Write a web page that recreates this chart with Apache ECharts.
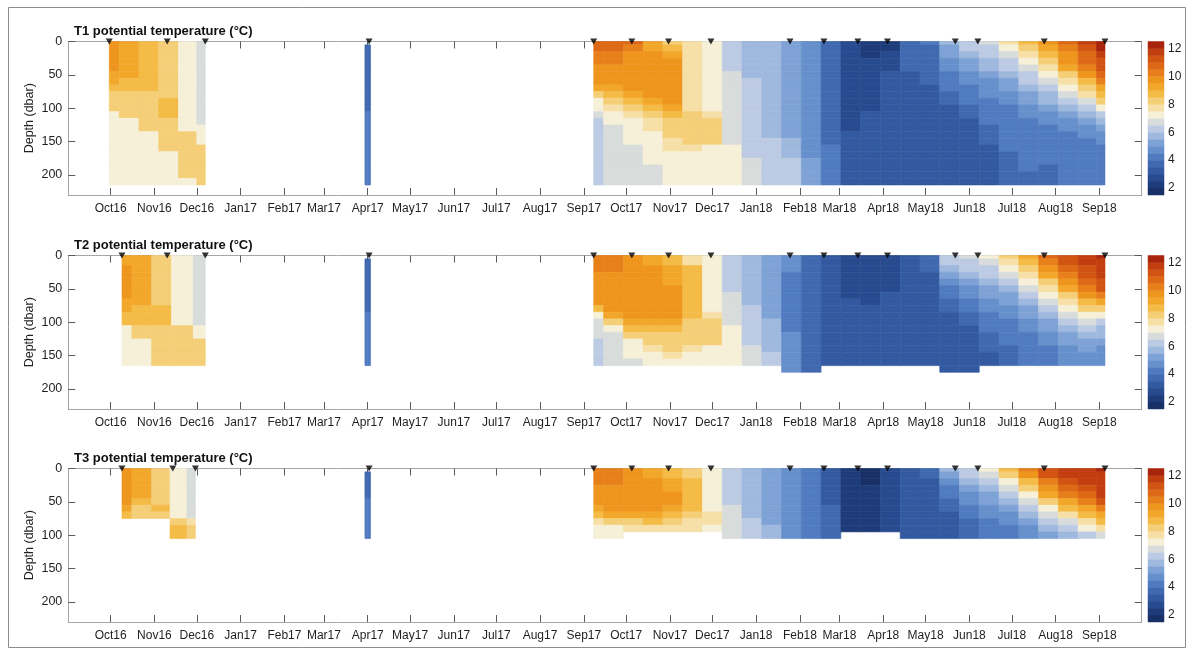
<!DOCTYPE html>
<html>
<head>
<meta charset="utf-8">
<script src="https://cdn.jsdelivr.net/npm/echarts@6.0.0/dist/echarts.min.js"></script>
<style>
  html, body { margin: 0; padding: 0; background: #ffffff; }
  #chart { width: 1193px; height: 654px; }
</style>
</head>
<body>
<div id="chart"></div>
<script>
// ---------------------------------------------------------------
// Potential temperature sections (°C) at three moorings T1, T2, T3.
// Each profile column lists values at DEPTHS (dbar), top downwards.
// ---------------------------------------------------------------
const DEPTHS = [0, 10, 20, 30, 40, 50, 60, 70, 80, 90, 100, 110, 120, 130, 140, 150, 160, 170, 180, 190, 200, 210];

const TICK_DATES = ['2016-10-01','2016-11-01','2016-12-01','2017-01-01','2017-02-01','2017-03-01','2017-04-01','2017-05-01',
  '2017-06-01','2017-07-01','2017-08-01','2017-09-01','2017-10-01','2017-11-01','2017-12-01','2018-01-01','2018-02-01',
  '2018-03-01','2018-04-01','2018-05-01','2018-06-01','2018-07-01','2018-08-01','2018-09-01'];
const TICK_LABELS = ['Oct16','Nov16','Dec16','Jan17','Feb17','Mar17','Apr17','May17','Jun17','Jul17','Aug17','Sep17',
  'Oct17','Nov17','Dec17','Jan18','Feb18','Mar18','Apr18','May18','Jun18','Jul18','Aug18','Sep18'];
const DEPTH_TICKS = [0, 50, 100, 150, 200];
const TIME_RANGE = ['2016-09-01', '2018-10-01'];
const DEPTH_RANGE = [0, 230];

// contour levels (0.5 °C apart) and the fill colour of each band
const LEVELS = [1.5, 2, 2.5, 3, 3.5, 4, 4.5, 5, 5.5, 6, 6.5, 7, 7.5, 8, 8.5, 9, 9.5, 10, 10.5, 11, 11.5, 12, 12.5];
const LEVEL_COLORS = ['#183066','#1f3c7a','#284a8e','#335aa0','#4069b0','#507bc0','#6690cc','#7ea2d5','#9fb8de',
  '#bccbe3','#d8dcdb','#f6f0d8','#f6e0a8','#f5cf78','#f4bb46','#f2a72b','#ee951e','#e7801a','#dd6916','#d25412',
  '#c23e0f','#a8240c'];
const CBAR_TICKS = [2, 4, 6, 8, 10, 12];

const TITLES = ['T1 potential temperature (°C)', 'T2 potential temperature (°C)', 'T3 potential temperature (°C)'];

// station (profile) dates shown as markers
const T1_STATIONS = ['2016-09-30','2016-11-10','2016-12-07','2017-04-02','2017-09-08','2017-10-05','2017-10-31','2017-11-30',
  '2018-01-25','2018-02-18','2018-03-14','2018-04-04','2018-05-22','2018-06-07','2018-07-24','2018-09-05'];
const T2_STATIONS = ['2016-10-09','2016-11-10','2016-12-07','2017-04-02','2017-09-08','2017-10-05','2017-10-31','2017-11-30',
  '2018-01-25','2018-02-18','2018-03-14','2018-04-04','2018-05-22','2018-06-07','2018-07-24','2018-09-05'];
const T3_STATIONS = ['2016-10-09','2016-11-14','2016-11-30','2017-04-02','2017-09-08','2017-10-05','2017-10-31','2017-11-30',
  '2018-01-25','2018-02-18','2018-03-14','2018-04-04','2018-05-22','2018-06-07','2018-07-24','2018-09-05'];

const SEASON_DATES = ['2017-09-08','2017-09-22','2017-10-06','2017-10-20','2017-11-03','2017-11-17','2017-12-01','2017-12-15',
  '2017-12-29','2018-01-12','2018-01-26','2018-02-09','2018-02-23','2018-03-09','2018-03-23','2018-04-06','2018-04-20',
  '2018-05-04','2018-05-18','2018-06-01','2018-06-15','2018-06-29','2018-07-13','2018-07-27','2018-08-10','2018-08-24','2018-09-05'];
const APR17_DATES = ['2017-03-30', '2017-04-03'];

// ---------------- T1 ----------------
const T1_AUTUMN16_DATES = ['2016-09-30','2016-10-14','2016-10-28','2016-11-11','2016-11-25','2016-12-07'];
const T1_AUTUMN16 = [
  [9.75,9.75,9.75,9.75,9.75,9.25,9.25,8.75,8.25,8.25,8.25,7.25,7.25,7.25,7.25,7.25,7.25,7.25,7.25,7.25,7.25,7.25],
  [9.25,9.25,9.25,9.25,9.25,9.25,8.75,8.75,8.25,8.25,8.25,8.25,7.25,7.25,7.25,7.25,7.25,7.25,7.25,7.25,7.25,7.25],
  [8.75,8.75,8.75,8.75,8.75,8.75,8.75,8.75,8.25,8.25,8.25,8.25,8.25,8.25,7.25,7.25,7.25,7.25,7.25,7.25,7.25,7.25],
  [8.25,8.25,8.25,8.25,8.25,8.25,8.25,8.25,8.25,8.75,8.75,8.75,8.25,8.25,8.25,8.25,8.25,7.25,7.25,7.25,7.25,7.25],
  [7.25,7.25,7.25,7.25,7.25,7.25,7.25,7.25,7.25,7.25,7.25,7.25,7.25,7.25,8.25,8.25,8.25,8.25,8.25,8.25,8.25,7.25],
  [6.75,6.75,6.75,6.75,6.75,6.75,6.75,6.75,6.75,6.75,6.75,6.75,6.75,7.25,7.25,7.25,8.25,8.25,8.25,8.25,8.25,8.25]
];
const T1_APR17 = [
  [null,3.75,3.75,3.75,3.75,3.75,3.75,3.75,3.75,3.75,3.75,4.25,4.25,4.25,4.25,4.25,4.25,4.25,4.25,4.25,4.25,4.25],
  [null,3.75,3.75,3.75,3.75,3.75,3.75,3.75,3.75,3.75,3.75,4.25,4.25,4.25,4.25,4.25,4.25,4.25,4.25,4.25,4.25,4.25]
];
const T1_SEASON = [
  [10.75,10.75,10.25,10.25,9.75,9.75,9.75,9.25,8.25,7.25,7.25,6.75,6.25,6.25,6.25,6.25,6.25,6.25,6.25,6.25,6.25,6.25],
  [10.75,10.75,10.25,10.25,9.75,9.75,9.75,9.25,8.75,8.25,7.75,7.25,7.25,6.75,6.75,6.75,6.75,6.75,6.75,6.75,6.75,6.75],
  [10.75,10.25,9.75,9.75,9.75,9.75,9.75,9.75,9.25,8.75,8.25,7.75,7.25,7.25,7.25,7.25,6.75,6.75,6.75,6.75,6.75,6.75],
  [9.25,9.25,9.75,9.75,9.75,9.75,9.75,9.75,9.75,9.25,8.75,8.25,7.75,7.75,7.25,7.25,7.25,7.25,7.25,6.75,6.75,6.75],
  [8.25,8.75,9.25,9.75,9.75,9.75,9.75,9.75,9.75,9.75,9.25,8.75,8.25,8.25,8.25,7.75,7.75,7.25,7.25,7.25,7.25,7.25],
  [7.75,7.75,7.75,7.75,7.75,7.75,7.75,7.75,7.75,7.75,7.75,8.25,8.25,8.25,8.25,8.25,7.75,7.25,7.25,7.25,7.25,7.25],
  [7.25,7.25,7.25,7.25,7.25,7.25,7.25,7.25,7.25,7.25,7.25,7.75,8.25,8.25,8.25,8.25,7.25,7.25,7.25,7.25,7.25,7.25],
  [6.25,6.25,6.25,6.25,6.25,6.75,6.75,6.75,6.75,6.75,6.75,6.75,6.75,6.75,6.75,6.75,7.25,7.25,7.25,7.25,7.25,7.25],
  [5.75,5.75,5.75,5.75,5.75,5.75,6.25,6.25,6.25,6.25,6.25,6.25,6.25,6.25,6.25,6.25,6.25,6.25,6.75,6.75,6.75,6.75],
  [5.75,5.75,5.75,5.75,5.75,5.75,5.75,5.75,5.75,5.75,5.75,5.75,5.75,5.75,5.75,6.25,6.25,6.25,6.25,6.25,6.25,6.25],
  [5.25,5.25,5.25,5.25,5.25,5.25,5.25,5.25,5.25,5.25,5.25,5.25,5.25,5.25,5.25,5.75,5.75,5.75,6.25,6.25,6.25,6.25],
  [4.75,4.75,4.75,4.75,4.75,4.75,4.75,4.75,4.75,4.75,4.75,4.75,4.75,4.75,4.75,4.75,4.75,4.75,5.25,5.25,5.25,5.25],
  [3.75,3.75,3.75,3.75,3.75,3.75,3.75,3.75,3.75,3.75,3.75,3.75,3.75,3.75,3.75,3.75,4.25,4.25,4.25,4.25,4.25,4.25],
  [2.75,2.75,2.75,2.75,2.75,2.75,2.75,2.75,2.75,2.75,2.75,2.75,2.75,2.75,3.25,3.25,3.25,3.25,3.25,3.25,3.25,3.25],
  [2.25,2.25,2.25,2.75,2.75,2.75,2.75,2.75,2.75,2.75,2.75,3.25,3.25,3.25,3.25,3.25,3.25,3.25,3.25,3.25,3.25,3.25],
  [2.25,2.25,2.75,2.75,2.75,3.25,3.25,3.25,3.25,3.25,3.25,3.25,3.25,3.25,3.25,3.25,3.25,3.25,3.25,3.25,3.25,3.25],
  [3.75,3.75,3.75,3.75,3.75,3.25,3.25,3.25,3.25,3.25,3.25,3.25,3.25,3.25,3.25,3.25,3.25,3.25,3.25,3.25,3.25,3.25],
  [4.25,3.75,3.75,3.75,3.75,3.75,3.75,3.25,3.25,3.25,3.25,3.25,3.25,3.25,3.25,3.25,3.25,3.25,3.25,3.25,3.25,3.25],
  [5.75,5.25,5.25,4.75,4.75,4.25,4.25,4.25,3.75,3.75,3.25,3.25,3.25,3.25,3.25,3.25,3.25,3.25,3.25,3.25,3.25,3.25],
  [6.25,6.25,5.75,5.25,5.25,4.75,4.75,4.25,4.25,4.25,3.75,3.75,3.25,3.25,3.25,3.25,3.25,3.25,3.25,3.25,3.25,3.25],
  [6.75,6.25,6.25,5.75,5.75,5.25,4.75,4.75,4.75,4.25,4.25,4.25,4.25,3.75,3.75,3.75,3.25,3.25,3.25,3.25,3.25,3.25],
  [7.75,7.25,6.75,6.25,6.25,5.75,5.25,5.25,4.75,4.75,4.25,4.25,4.25,4.25,4.25,4.25,4.25,3.75,3.75,3.75,3.75,3.75],
  [8.75,8.25,7.75,7.25,6.75,6.25,6.25,5.75,5.25,5.25,4.75,4.75,4.25,4.25,4.25,4.25,4.25,4.25,4.25,4.25,3.75,3.75],
  [9.75,9.25,8.75,8.25,7.75,7.25,6.75,6.25,5.75,5.75,5.25,4.75,4.75,4.25,4.25,4.25,4.25,4.25,4.25,3.75,3.75,3.75],
  [10.75,10.25,9.75,9.75,9.25,8.25,7.75,7.25,6.75,6.25,5.75,5.25,4.75,4.75,4.25,4.25,4.25,4.25,4.25,4.25,4.25,4.25],
  [11.75,11.25,10.75,10.75,10.25,9.75,8.75,8.25,7.75,6.75,6.25,5.75,5.25,4.75,4.75,4.25,4.25,4.25,4.25,4.25,4.25,4.25],
  [12.25,12.25,11.75,11.25,11.25,10.75,10.25,9.25,8.75,8.25,7.25,6.25,5.75,5.25,4.75,4.75,4.25,4.25,4.25,4.25,4.25,4.25]
];

// ---------------- T2 ----------------
const T2_AUTUMN16_DATES = ['2016-10-09','2016-10-23','2016-11-06','2016-11-20','2016-12-07'];
const T2_AUTUMN16 = [
  [9.25,9.25,9.75,9.75,9.75,9.75,9.75,9.25,9.25,8.75,8.75,7.25,7.25,7.25,7.25,7.25,7.25],
  [9.25,9.25,9.25,9.25,9.25,9.25,9.25,9.25,8.75,8.75,8.75,8.25,8.25,7.25,7.25,7.25,7.25],
  [8.25,8.25,8.25,8.25,8.25,8.25,8.25,8.25,8.75,8.75,8.75,8.25,8.25,8.25,8.25,8.25,8.25],
  [7.25,7.25,7.25,7.25,7.25,7.25,7.25,7.25,7.25,7.25,7.25,8.25,8.25,8.25,8.25,8.25,8.25],
  [6.75,6.75,6.75,6.75,6.75,6.75,6.75,6.75,6.75,6.75,6.75,7.25,7.25,8.25,8.25,8.25,8.25]
];
const T2_APR17 = [
  [null,3.75,3.75,3.75,3.75,3.75,3.75,3.75,3.75,4.25,4.25,4.25,4.25,4.25,4.25,4.25,4.25],
  [null,3.75,3.75,3.75,3.75,3.75,3.75,3.75,3.75,4.25,4.25,4.25,4.25,4.25,4.25,4.25,4.25]
];
const T2_SEASON = [
  [10.25,10.25,10.25,9.75,9.75,9.75,9.75,9.75,8.75,7.25,6.75,6.75,6.75,6.25,6.25,6.25,6.25],
  [10.25,10.25,10.25,9.75,9.75,9.75,9.75,9.75,9.75,9.25,8.25,7.25,6.75,6.75,6.75,6.75,6.75],
  [9.75,9.75,9.75,9.75,9.75,9.75,9.75,9.75,9.75,9.75,9.25,8.75,8.25,7.25,7.25,7.25,6.75],
  [9.25,9.25,9.75,9.75,9.75,9.75,9.75,9.75,9.75,9.75,9.25,8.75,8.25,8.25,7.75,7.25,7.25],
  [8.75,8.75,9.25,9.25,9.25,9.75,9.75,9.75,9.75,9.75,9.25,8.75,8.25,8.25,8.25,7.75,7.25],
  [7.75,7.75,8.75,8.75,8.75,8.75,8.75,8.75,8.75,8.75,8.25,8.25,8.25,8.25,7.75,7.25,7.25],
  [7.25,7.25,7.25,7.25,7.25,7.25,7.25,7.25,7.25,7.75,8.25,8.25,8.25,8.25,7.25,7.25,7.25],
  [6.25,6.25,6.25,6.25,6.25,6.25,6.75,6.75,6.75,6.75,6.75,7.25,7.25,7.25,7.25,7.25,7.25],
  [5.75,5.75,5.75,5.75,5.75,5.75,5.75,5.75,6.25,6.25,6.25,6.25,6.25,6.25,6.75,6.75,6.75],
  [5.25,5.25,5.25,5.25,5.25,5.25,5.25,5.25,5.25,5.25,5.75,5.75,5.75,5.75,5.75,6.25,6.25],
  [4.75,4.75,4.75,4.25,4.25,4.25,4.25,4.25,4.25,4.25,4.25,4.25,4.75,4.75,4.75,4.75,4.75,4.75],
  [3.75,3.75,3.75,3.75,3.75,3.75,3.75,3.75,3.75,3.75,3.75,3.75,3.75,3.75,3.75,3.75,3.75,3.75],
  [3.25,3.25,3.25,3.25,3.25,3.25,3.25,3.25,3.25,3.25,3.25,3.25,3.25,3.25,3.25,3.25,3.25],
  [2.75,2.75,2.75,2.75,2.75,2.75,2.75,3.25,3.25,3.25,3.25,3.25,3.25,3.25,3.25,3.25,3.25],
  [2.75,2.75,2.75,2.75,2.75,2.75,2.75,2.75,3.25,3.25,3.25,3.25,3.25,3.25,3.25,3.25,3.25],
  [2.75,2.75,2.75,2.75,2.75,2.75,3.25,3.25,3.25,3.25,3.25,3.25,3.25,3.25,3.25,3.25,3.25],
  [3.25,3.25,3.25,3.25,3.25,3.25,3.25,3.25,3.25,3.25,3.25,3.25,3.25,3.25,3.25,3.25,3.25],
  [3.75,3.75,3.75,3.25,3.25,3.25,3.25,3.25,3.25,3.25,3.25,3.25,3.25,3.25,3.25,3.25,3.25],
  [6.25,6.25,5.75,5.25,4.75,4.25,4.25,3.75,3.75,3.25,3.25,3.25,3.25,3.25,3.25,3.25,3.25,3.25],
  [6.75,6.25,6.25,5.75,5.25,4.75,4.75,4.25,4.25,3.75,3.75,3.25,3.25,3.25,3.25,3.25,3.25,3.25],
  [7.25,6.75,6.25,6.25,5.75,5.25,5.25,4.75,4.75,4.25,4.25,4.25,3.75,3.75,3.75,3.25,3.25],
  [8.25,7.75,7.25,6.75,6.25,5.75,5.25,5.25,4.75,4.75,4.25,4.25,4.25,4.25,3.75,3.75,3.75],
  [9.25,8.75,8.25,7.75,7.25,6.75,6.25,5.75,5.25,5.25,4.75,4.75,4.25,4.25,4.25,4.25,4.25],
  [10.75,10.25,9.75,9.25,8.25,7.75,7.25,6.75,6.25,5.75,5.25,5.25,4.75,4.75,4.25,4.25,4.25],
  [11.25,11.25,10.75,10.25,9.75,9.25,8.25,7.75,7.25,6.75,6.25,5.75,5.25,5.25,4.75,4.75,4.75],
  [11.75,11.75,11.25,11.25,10.75,10.25,9.75,8.75,8.25,7.25,6.75,6.25,5.75,5.25,5.25,4.75,4.75],
  [12.25,11.75,11.75,11.75,11.25,11.25,10.25,9.25,8.25,7.25,6.25,5.75,5.75,5.25,4.75,4.75,4.75]
];

// ---------------- T3 ----------------
const T3_AUTUMN16_DATES = ['2016-10-09','2016-10-23','2016-11-06','2016-11-18','2016-11-30'];
const T3_AUTUMN16 = [
  [9.75,9.75,9.75,9.75,9.75,9.75,9.25,8.75],
  [9.25,9.25,9.25,9.25,9.25,8.75,8.25,8.25],
  [8.25,8.25,8.25,8.25,8.25,8.25,8.75,8.25],
  [7.25,7.25,7.25,7.25,7.25,7.25,7.25,7.25,8.25,8.75,8.75],
  [6.75,6.75,6.75,6.75,6.75,6.75,6.75,6.75,7.75,8.25,8.25]
];
const T3_APR17 = [
  [null,3.75,3.75,3.75,3.75,4.25,4.25,4.25,4.25,4.25,4.25],
  [null,3.75,3.75,3.75,3.75,4.25,4.25,4.25,4.25,4.25,4.25]
];
const T3_SEASON = [
  [10.25,10.25,10.25,9.75,9.75,9.75,9.25,8.75,7.75,7.25,7.25],
  [10.25,10.25,10.25,9.75,9.75,9.75,9.75,9.25,8.25,7.25,7.25],
  [9.75,9.75,9.75,9.75,9.75,9.75,9.75,9.25,8.25,7.75],
  [9.25,9.25,9.75,9.75,9.75,9.75,9.75,9.25,8.75,7.75],
  [8.75,8.75,9.25,9.25,9.75,9.75,9.25,8.75,8.25,7.75],
  [8.25,8.25,8.75,8.75,8.75,8.75,8.75,8.25,7.75,7.75],
  [7.25,7.25,7.25,7.25,7.25,7.25,7.25,7.75,7.75,7.25],
  [6.25,6.25,6.25,6.25,6.25,6.25,6.75,6.75,6.75,6.75,6.75],
  [5.75,5.75,5.75,5.75,5.75,5.75,5.75,5.75,6.25,6.25,6.25],
  [5.25,5.25,5.25,5.25,5.25,5.25,5.25,5.25,5.25,5.75,5.75],
  [4.75,4.75,4.75,4.75,4.75,4.75,4.75,4.75,4.75,4.75,4.75],
  [4.25,4.25,4.25,4.25,4.25,4.25,4.25,4.25,4.25,4.25,4.25],
  [3.25,3.25,3.25,3.25,3.25,3.25,3.75,3.75,3.75,3.75,3.75],
  [2.25,2.25,2.25,2.25,2.25,2.25,2.25,2.25,2.25,2.25],
  [1.75,1.75,1.75,2.25,2.25,2.25,2.25,2.25,2.25,2.25],
  [2.75,2.75,2.75,2.75,2.75,2.75,2.75,2.75,2.75,2.75],
  [3.25,3.25,3.25,3.25,3.25,3.25,3.25,3.25,3.25,3.25,3.25],
  [3.75,3.75,3.25,3.25,3.25,3.25,3.25,3.25,3.25,3.25,3.25],
  [5.75,5.25,4.75,4.25,4.25,3.75,3.75,3.25,3.25,3.25,3.25],
  [6.25,6.25,5.75,5.25,4.75,4.75,4.25,4.25,3.75,3.75,3.75],
  [7.25,6.75,6.25,5.75,5.25,5.25,4.75,4.75,4.25,4.25,4.25],
  [8.75,8.25,7.25,6.75,6.25,5.75,5.25,4.75,4.75,4.25,4.25],
  [10.25,9.75,8.75,8.25,7.25,6.75,6.25,5.75,5.25,4.75,4.75],
  [11.25,11.25,10.25,9.75,9.25,8.25,7.25,6.75,6.25,5.75,5.25],
  [11.75,11.75,11.25,10.75,10.25,9.25,8.75,7.75,6.75,6.25,5.75],
  [11.75,11.75,11.75,11.25,10.75,10.25,9.25,8.75,7.75,7.25,6.25],
  [12.25,11.75,11.75,11.75,11.75,11.25,10.25,9.25,8.75,7.75,6.75]
];

// ---------------------------------------------------------------
const toMs = s => Date.parse(s + 'T00:00:00Z');
const TICK_MS = TICK_DATES.map(toMs);
const FONT = 'Liberation Sans, Arial, Helvetica, sans-serif';

const PANELS = [
  { title: TITLES[0], stations: T1_STATIONS,
    segments: [[T1_AUTUMN16_DATES, T1_AUTUMN16], [APR17_DATES, T1_APR17], [SEASON_DATES, T1_SEASON]] },
  { title: TITLES[1], stations: T2_STATIONS,
    segments: [[T2_AUTUMN16_DATES, T2_AUTUMN16], [APR17_DATES, T2_APR17], [SEASON_DATES, T2_SEASON]] },
  { title: TITLES[2], stations: T3_STATIONS,
    segments: [[T3_AUTUMN16_DATES, T3_AUTUMN16], [APR17_DATES, T3_APR17], [SEASON_DATES, T3_SEASON]] }
];

// Each profile value becomes one cell: in time it reaches halfway to the
// neighbouring profiles, in depth half a grid step up and down.
function buildCells(segments) {
  const half = (DEPTHS[1] - DEPTHS[0]) / 2;
  const cells = [];
  segments.forEach(([dates, columns]) => {
    const ts = dates.map(toMs);
    ts.forEach((t, j) => {
      const t0 = j === 0 ? t : (ts[j - 1] + t) / 2;
      const t1 = j === ts.length - 1 ? t : (t + ts[j + 1]) / 2;
      columns[j].forEach((v, k) => {
        if (v === null || v === undefined) return;
        cells.push([t0, t1, Math.max(DEPTH_RANGE[0], DEPTHS[k] - half), DEPTHS[k] + half, v]);
      });
    });
  });
  return cells;
}

function levelColor(v) {
  const step = LEVELS[1] - LEVELS[0];
  let i = Math.floor((v - LEVELS[0]) / step);
  i = Math.max(0, Math.min(LEVEL_COLORS.length - 1, i));
  return LEVEL_COLORS[i];
}

function renderCell(params, api) {
  const a = api.coord([api.value(0), api.value(2)]);
  const b = api.coord([api.value(1), api.value(3)]);
  const fill = levelColor(api.value(4));
  return {
    type: 'rect',
    shape: { x: a[0], y: a[1], width: b[0] - a[0], height: b[1] - a[1] },
    style: { fill: fill, stroke: fill, lineWidth: 0.6 }
  };
}

function renderBand(params, api) {
  const a = api.coord([0, api.value(0)]);
  const b = api.coord([1, api.value(1)]);
  const fill = LEVEL_COLORS[api.value(2)];
  return {
    type: 'rect',
    shape: { x: a[0], y: b[1], width: b[0] - a[0], height: a[1] - b[1] },
    style: { fill: fill, stroke: fill, lineWidth: 0.5 }
  };
}

const tickLabel = v => {
  const i = TICK_MS.indexOf(v);
  return i >= 0 ? TICK_LABELS[i] : '';
};

// layout
const GRID_TOPS = [41.5, 255.5, 468.5];
const GRID_H = 153.5;
const GRID_LEFT = 68.3;
const GRID_W = 1073.4;
const CBAR_LEFT = 1148;
const CBAR_W = 16;
const AXIS_COLOR = '#a6a6a6';
const TICK_COLOR = '#5a5a5a';
const TEXT_COLOR = '#1f1f1f';

const grid = [], xAxis = [], yAxis = [], series = [], title = [];
const bands = LEVEL_COLORS.map((c, i) => [LEVELS[i], LEVELS[i + 1], i]);

PANELS.forEach((p, n) => {
  const top = GRID_TOPS[n];
  grid.push({ left: GRID_LEFT, top: top, width: GRID_W, height: GRID_H, outerBoundsMode: 'none', containLabel: false });
  grid.push({ left: CBAR_LEFT, top: top, width: CBAR_W, height: GRID_H, outerBoundsMode: 'none', containLabel: false });

  title.push({
    text: p.title, left: 74, top: top - 17, padding: 0,
    textStyle: { fontFamily: FONT, fontSize: 13, fontWeight: 'bold', color: '#111' }
  });

  const gi = 2 * n;
  const tMin = toMs(TIME_RANGE[0]), tMax = toMs(TIME_RANGE[1]);
  // bottom time axis with labels
  xAxis.push({
    type: 'value', gridIndex: gi, position: 'bottom', min: tMin, max: tMax,
    axisLine: { show: true, onZero: false, lineStyle: { color: AXIS_COLOR, width: 1 } },
    axisTick: { show: true, inside: true, length: 7, customValues: TICK_MS, lineStyle: { color: TICK_COLOR, width: 1 } },
    axisLabel: { show: true, customValues: TICK_MS, formatter: tickLabel, margin: 8,
      fontFamily: FONT, fontSize: 12, color: TEXT_COLOR, hideOverlap: false },
    splitLine: { show: false }
  });
  // top time axis (box edge + ticks)
  xAxis.push({
    type: 'value', gridIndex: gi, position: 'top', min: tMin, max: tMax,
    axisLine: { show: true, onZero: false, lineStyle: { color: AXIS_COLOR, width: 1 } },
    axisTick: { show: true, inside: true, length: 7, customValues: TICK_MS, lineStyle: { color: TICK_COLOR, width: 1 } },
    axisLabel: { show: false },
    splitLine: { show: false }
  });
  // colour bar x
  xAxis.push({ type: 'value', gridIndex: gi + 1, min: 0, max: 1, show: false });

  yAxis.push({
    type: 'value', gridIndex: gi, position: 'left', inverse: true, min: DEPTH_RANGE[0], max: DEPTH_RANGE[1],
    name: 'Depth (dbar)', nameLocation: 'middle', nameGap: 32, nameRotate: 90, nameMoveOverlap: false,
    nameTextStyle: { fontFamily: FONT, fontSize: 12.5, color: TEXT_COLOR },
    axisLine: { show: true, onZero: false, lineStyle: { color: AXIS_COLOR, width: 1 } },
    axisTick: { show: true, inside: true, length: 7, customValues: DEPTH_TICKS, lineStyle: { color: TICK_COLOR, width: 1 } },
    axisLabel: { show: true, customValues: DEPTH_TICKS, margin: 6, fontFamily: FONT, fontSize: 12.5, color: TEXT_COLOR },
    splitLine: { show: false }
  });
  yAxis.push({
    type: 'value', gridIndex: gi, position: 'right', inverse: true, min: DEPTH_RANGE[0], max: DEPTH_RANGE[1],
    axisLine: { show: true, onZero: false, lineStyle: { color: AXIS_COLOR, width: 1 } },
    axisTick: { show: true, inside: true, length: 7, customValues: DEPTH_TICKS, lineStyle: { color: TICK_COLOR, width: 1 } },
    axisLabel: { show: false },
    splitLine: { show: false }
  });
  yAxis.push({
    type: 'value', gridIndex: gi + 1, position: 'right', min: LEVELS[0], max: LEVELS[LEVELS.length - 1],
    axisLine: { show: false },
    axisTick: { show: false },
    axisLabel: { show: true, customValues: CBAR_TICKS, margin: 4, fontFamily: FONT, fontSize: 12, color: TEXT_COLOR },
    splitLine: { show: false }
  });

  const xi = 3 * n, yi = 3 * n;
  series.push({
    type: 'custom', name: p.title, xAxisIndex: xi, yAxisIndex: yi,
    renderItem: renderCell, data: buildCells(p.segments),
    encode: { x: [0, 1], y: [2, 3] }, silent: true, z: 2
  });
  series.push({
    type: 'scatter', xAxisIndex: xi, yAxisIndex: yi, clip: false, silent: true, z: 5,
    symbol: 'triangle', symbolRotate: 180, symbolSize: [7, 6],
    itemStyle: { color: '#000000' },
    data: p.stations.map(s => [toMs(s), 0])
  });
  series.push({
    type: 'custom', xAxisIndex: xi + 2, yAxisIndex: yi + 2,
    renderItem: renderBand, data: bands, encode: { x: -1, y: [0, 1] }, silent: true
  });
});

const chart = echarts.init(document.getElementById('chart'), null, { renderer: 'canvas' });
chart.setOption({
  animation: false,
  backgroundColor: '#ffffff',
  textStyle: { fontFamily: FONT },
  title: title,
  grid: grid,
  xAxis: xAxis,
  yAxis: yAxis,
  series: series,
  graphic: [{
    type: 'rect', silent: true,
    shape: { x: 8.5, y: 7.5, width: 1177, height: 640 },
    style: { fill: 'none', stroke: '#8c8c8c', lineWidth: 1 }
  }]
});
</script>
</body>
</html>
